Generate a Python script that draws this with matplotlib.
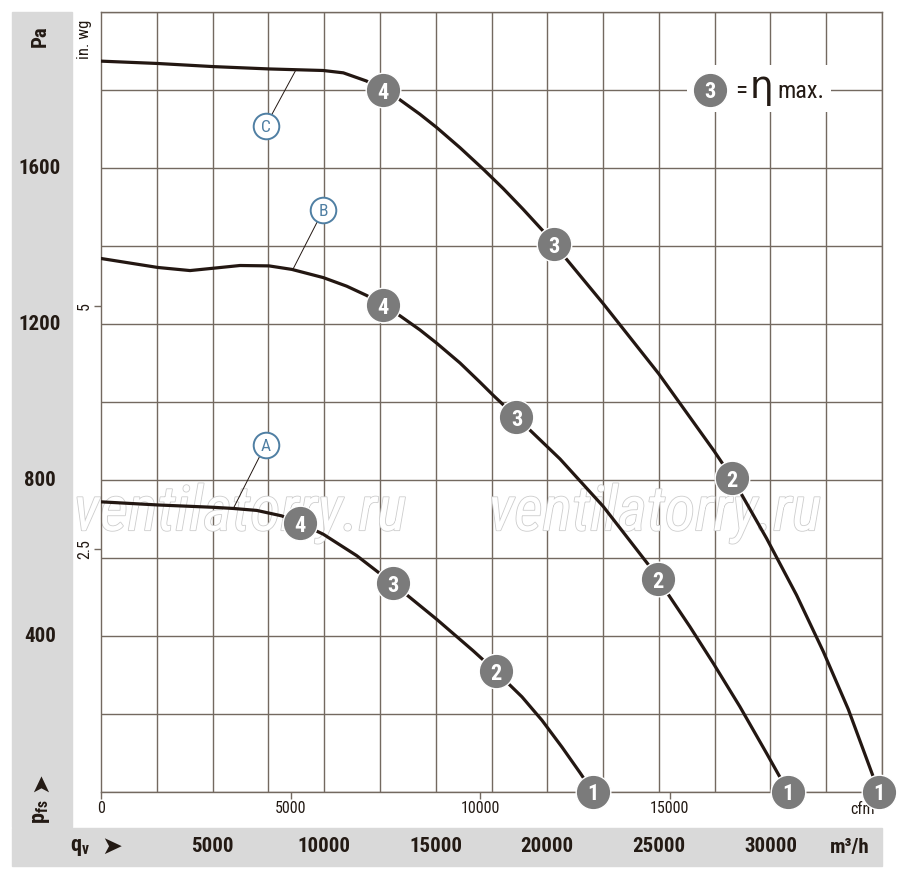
import matplotlib
matplotlib.use('Agg')
import matplotlib.pyplot as plt
import matplotlib.patheffects as pe
from matplotlib import font_manager
from matplotlib.patches import Rectangle
from matplotlib.transforms import blended_transform_factory

# fonts: a condensed face if there is one
names = {f.name for f in font_manager.fontManager.ttflist}
NARROW = 'Liberation Sans'
for cand in ['Liberation Sans Narrow', 'Roboto Condensed', 'Open Sans Condensed']:
    if cand in names:
        NARROW = cand
        break
plt.rcParams['font.family'] = [NARROW, 'DejaVu Sans']
plt.rcParams['mathtext.fontset'] = 'custom'
plt.rcParams['mathtext.rm'] = NARROW
plt.rcParams['mathtext.it'] = NARROW
plt.rcParams['mathtext.bf'] = NARROW + ':bold'

TXT = '#231a14'
GRID = '#736960'
BAND = '#d9d9d9'
CURVE = '#231712'
MARK = '#7b7b7b'
BLUE = '#4f7fa3'

# --- data: air flow qv [m3/h], static pressure pfs [Pa]
c_q = [0, 2540, 5030, 7530, 9960, 10860, 11900, 12650, 13320, 14290, 15040,
       16090, 17130, 18030, 18920, 19820, 20300, 22510, 25000, 27480, 28290,
       29830, 31170, 32370, 33490, 34860]
c_p = [1874, 1868, 1860, 1854, 1850, 1844, 1823, 1799, 1778, 1738, 1704,
       1652, 1597, 1547, 1494, 1438, 1405, 1252, 1072, 874, 805,
       650, 505, 360, 212, 0]

b_q = [0, 2540, 3990, 5030, 6230, 7530, 8550, 9960, 11010, 11910, 12650,
       13400, 14290, 15040, 16090, 16980, 17580, 18620, 20570, 22510, 24530,
       24970, 26390, 27440, 28630, 29830, 30800]
b_p = [1368, 1345, 1337, 1343, 1350, 1349, 1340, 1319, 1297, 1273, 1248,
       1221, 1185, 1151, 1100, 1051, 1017, 961, 854, 732, 583,
       545, 424, 330, 219, 99, 0]

a_q = [0, 2540, 5030, 5930, 6980, 8100, 8920, 9960, 11460, 13070, 15040,
       16680, 17700, 18865, 19760, 20660, 21460, 22050]
a_p = [744, 736, 730, 727, 722, 708, 689, 661, 606, 535, 443,
       362, 309, 244, 184, 115, 50, 0]

# operating points 4,3,2,1 on each curve
pt_labels = ['4', '3', '2', '1']
c_pts_q = [12650, 20300, 28290, 34860]
c_pts_p = [1799, 1405, 805, 0]
b_pts_q = [12650, 18620, 24970, 30800]
b_pts_p = [1248, 961, 545, 0]
a_pts_q = [8920, 13070, 17700, 22050]
a_pts_p = [689, 535, 309, 0]

# curve letters: circle position, point where the leader touches the curve
letters = ['A', 'B', 'C']
letter_q = [7380, 9960, 7380]
letter_p = [891, 1492, 1708]
leader_q = [5930, 8590, 8740]
leader_p = [727, 1339, 1852]

m3h_ticks = [5000, 10000, 15000, 20000, 25000, 30000]
pa_ticks = [400, 800, 1200, 1600]
cfm_ticks = [0, 5000, 10000, 15000]
inwg_ticks = [2.5, 5]

CFM = 1.699011   # m3/h per cfm
INWG = 249.089   # Pa per in.wg

fig = plt.figure(figsize=(9, 8.75), dpi=100)

# grey bands
fig.patches.append(Rectangle((12 / 900, 48 / 875), 60 / 900, 815 / 875,
                             transform=fig.transFigure, color=BAND, zorder=0))
fig.patches.append(Rectangle((12 / 900, 9 / 875), 870 / 900, 38 / 875,
                             transform=fig.transFigure, color=BAND, zorder=0))

ax = fig.add_axes([101 / 900, 83 / 875, 781 / 900, 780 / 875])
ax.set_zorder(1)
ax.set_xlim(0, 35000)
ax.set_ylim(0, 2000)
for s in ax.spines.values():
    s.set_color(GRID)
    s.set_linewidth(1.0)

ax.set_xticks([2500 * i for i in range(15)], minor=True)
ax.set_yticks([200 * i for i in range(11)], minor=True)
ax.grid(which='minor', color=GRID, linewidth=1.0)
ax.tick_params(which='minor', length=0)
ax.set_xticks([v * CFM for v in cfm_ticks])
ax.set_xticklabels([str(v) for v in cfm_ticks])
ax.set_yticks([v * INWG for v in inwg_ticks])
ax.set_yticklabels(['2.5', '5'], rotation=90, va='center')
ax.tick_params(which='major', length=5, width=1, color=GRID, colors=TXT,
               labelsize=11.5, pad=1.5)
ax.text(0.975, -0.013, 'cfm', transform=ax.transAxes, ha='center', va='top',
        fontsize=11.5, color=TXT)
ax.text(-0.011, 0.99, 'in. wg', transform=ax.transAxes, ha='right', va='top',
        rotation=90, fontsize=12, color=TXT)

# watermark
for xw in [0.178, 0.709]:
    ax.text(xw, 0.357, 'ventilatorry.ru', transform=ax.transAxes, ha='center',
            va='center', fontsize=45, style='italic', color='white', zorder=2,
            path_effects=[pe.Stroke(linewidth=1.2, foreground='#cdcdcd'), pe.Normal()])

# curves
for q, p in [(c_q, c_p), (b_q, b_p), (a_q, a_p)]:
    ax.plot(q, p, color=CURVE, linewidth=2.3, solid_joinstyle='round',
            solid_capstyle='round', zorder=3)

for qs, ps in [(c_pts_q, c_pts_p), (b_pts_q, b_pts_p), (a_pts_q, a_pts_p)]:
    ax.scatter(qs, ps, s=620, color=MARK, edgecolor='white', linewidth=1.0,
               zorder=4, clip_on=False)
    for q, p, lab in zip(qs, ps, pt_labels):
        ax.text(q, p, lab, ha='center', va='center_baseline', color='white',
                fontsize=16, fontweight='bold', zorder=5, clip_on=False)

for lab, lq, lp, tq, tp in zip(letters, letter_q, letter_p, leader_q, leader_p):
    ax.plot([lq, tq], [lp, tp], color=CURVE, linewidth=0.7, zorder=3)
    ax.scatter([lq], [lp], s=340, facecolor='white', edgecolor=BLUE,
               linewidth=1.4, zorder=4)
    ax.text(lq, lp, lab, ha='center', va='center_baseline', color=BLUE,
            fontsize=12.5, zorder=5)

# legend box: 3 = eta max.
ax.add_patch(Rectangle((0.75, 0.872), 0.185, 0.06, transform=ax.transAxes,
                       facecolor='white', edgecolor='none', zorder=2.5))
ax.scatter([0.78], [0.9], s=620, color=MARK, edgecolor='white', linewidth=1.0,
           transform=ax.transAxes, zorder=4)
ax.text(0.78, 0.9, '3', transform=ax.transAxes, ha='center',
        va='center_baseline', color='white', fontsize=16, fontweight='bold', zorder=5)
ax.text(0.812, 0.8897, '=', transform=ax.transAxes, ha='left', va='baseline',
        color=TXT, fontsize=18, zorder=5)
ax.text(0.830, 0.8897, '\u03b7', transform=ax.transAxes, ha='left', va='baseline',
        color=TXT, fontsize=27, family='DejaVu Sans', zorder=5)
ax.text(0.866, 0.8897, 'max.', transform=ax.transAxes, ha='left', va='baseline',
        color=TXT, fontsize=17.5, zorder=5)

# bottom band: m3/h scale
bt = blended_transform_factory(ax.transData, fig.transFigure)
for v in m3h_ticks:
    ax.text(v, 28 / 875, str(v), transform=bt, ha='center', va='center',
            fontsize=15, fontweight='bold', color=TXT, clip_on=False)
fig.text(850 / 900, 28 / 875, 'm\u00b3/h', ha='center', va='center',
         fontsize=15, fontweight='bold', color=TXT)
fig.text(80 / 900, 27 / 875, r'$\mathbf{q_v}$', ha='center', va='center',
         fontsize=16, color=TXT)
fig.text(112 / 900, 28 / 875, '\u27a4', ha='center', va='center',
         fontsize=18, color=TXT, family='DejaVu Sans')

# left band: Pa scale
lt = blended_transform_factory(fig.transFigure, ax.transData)
for v in pa_ticks:
    ax.text(40 / 900, v, str(v), transform=lt, ha='center', va='center',
            fontsize=15, fontweight='bold', color=TXT, clip_on=False)
fig.text(40 / 900, (875 - 36) / 875, 'Pa', ha='center', va='center',
         rotation=90, fontsize=15, fontweight='bold', color=TXT)
fig.text(42 / 900, (875 - 812) / 875, r'$\mathbf{p_{fs}}$', ha='center',
         va='center', rotation=90, fontsize=16, color=TXT)
fig.text(40 / 900, (875 - 782) / 875, '\u27a4', ha='center', va='center',
         rotation=90, fontsize=17, color=TXT, family='DejaVu Sans')

fig.savefig('out.png', dpi=100)
